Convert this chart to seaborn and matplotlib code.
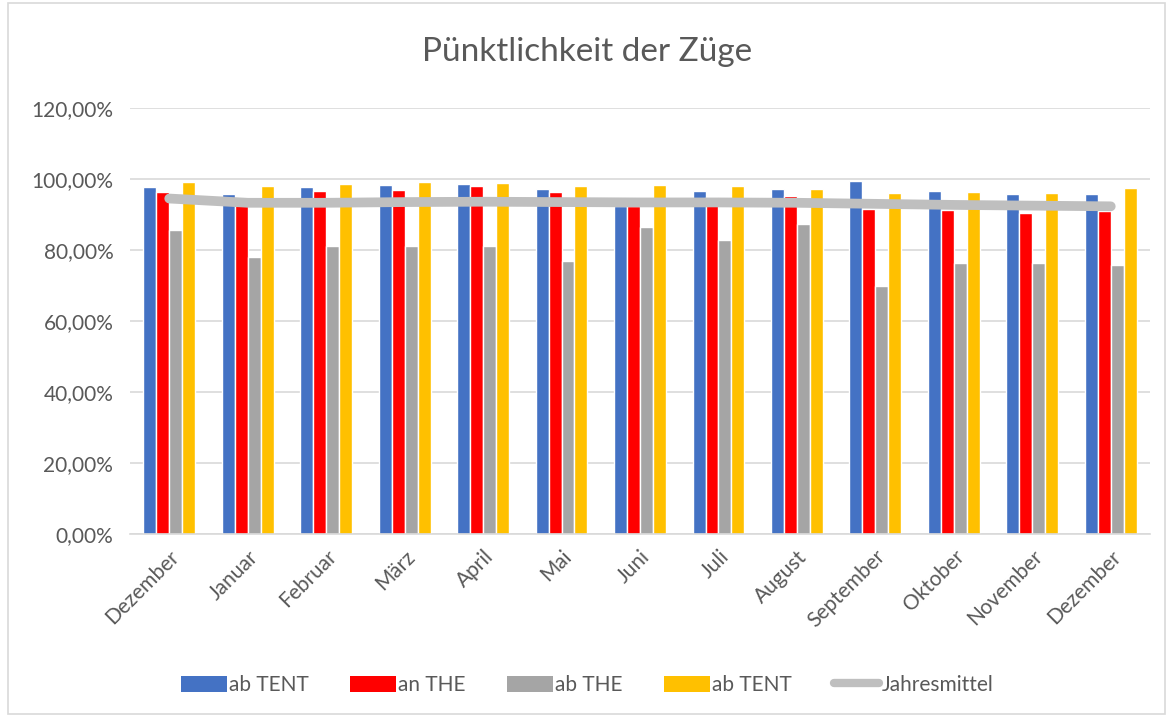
import matplotlib
matplotlib.use("Agg")
import matplotlib.pyplot as plt
import matplotlib.ticker as mticker
from matplotlib.patches import Rectangle, Patch
from matplotlib.lines import Line2D
import seaborn as sns
import pandas as pd
import numpy as np

months = ["Dezember", "Januar", "Februar", "März", "April", "Mai", "Juni",
          "Juli", "August", "September", "Oktober", "November", "Dezember"]
series_names = ["ab TENT", "an THE", "ab THE", "ab TENT "]
legend_labels = ["ab TENT", "an THE", "ab THE", "ab TENT"]
ab_tent = [97.8, 95.9, 97.7, 98.3, 98.5, 97.2, 92.3, 96.6, 97.2, 99.5, 96.5, 95.7, 95.9]
an_the = [96.2, 94.5, 96.6, 96.9, 98.0, 96.2, 92.3, 94.8, 95.2, 91.5, 91.4, 90.4, 91.0]
ab_the = [85.6, 78.0, 81.1, 81.1, 81.2, 77.0, 86.4, 82.7, 87.3, 70.0, 76.3, 76.3, 75.8]
ab_tent2 = [99.2, 97.9, 98.7, 99.2, 99.0, 98.0, 98.3, 98.0, 97.3, 96.0, 96.4, 96.0, 97.5]
jahresmittel = [94.5, 93.3, 93.3, 93.5, 93.6, 93.5, 93.4, 93.4, 93.3, 93.0, 92.7, 92.5, 92.3]
title = "Pünktlichkeit der Züge"
line_label = "Jahresmittel"

colors = ["#4472C4", "#FF0000", "#A5A5A5", "#FFC000"]
line_color = "#BFBFBF"

sns.set_style("white")
plt.rcParams["font.family"] = ["Lato", "DejaVu Sans"]

idx = list(range(len(months)))
rows = []
for name, vals in zip(series_names, [ab_tent, an_the, ab_the, ab_tent2]):
    for i, v in zip(idx, vals):
        rows.append({"idx": i, "serie": name, "wert": v / 100})
df = pd.DataFrame(rows)

fig = plt.figure(figsize=(11.74, 7.16), dpi=100)
ax = fig.add_axes([130 / 1174, 1 - 534 / 716, 1020 / 1174, 426 / 716])

sns.barplot(data=df, x="idx", y="wert", hue="serie", hue_order=series_names,
            palette=colors, width=0.66, ax=ax, legend=False, saturation=1)
sns.lineplot(x=idx, y=[v / 100 for v in jahresmittel], ax=ax, color=line_color,
             linewidth=7, legend=False, solid_capstyle="round")

ax.set_xlim(-0.5, len(months) - 0.5)
ax.set_ylim(0, 1.2)
ax.yaxis.set_major_locator(mticker.MultipleLocator(0.2))
ax.yaxis.set_major_formatter(mticker.FuncFormatter(lambda v, p: f"{v*100:.2f}%".replace(".", ",")))
ax.grid(axis="y", color="#D9D9D9", linewidth=1.2)
ax.set_axisbelow(True)
for s in ["left", "right", "top"]:
    ax.spines[s].set_visible(False)
ax.spines["bottom"].set_color("#D9D9D9")
ax.spines["bottom"].set_linewidth(1.2)
ax.set_xticks(idx)
ax.set_xticklabels(months, rotation=45, ha="right", rotation_mode="anchor", fontsize=15, color="#595959")
ax.tick_params(axis="x", which="major", length=0, pad=9)
ax.set_xticks(np.arange(-0.5, len(months), 1.0), minor=True)
ax.tick_params(axis="x", which="minor", length=6, color="#D9D9D9", width=1.2)
ax.tick_params(axis="y", length=0, labelsize=15, labelcolor="#595959", pad=12)
ax.set_xlabel("")
ax.set_ylabel("")

fig.text(0.5, 1 - 52 / 716, title, ha="center", va="center", fontsize=24, color="#595959")

handles = [Patch(facecolor=c, edgecolor="none") for c in colors]
handles.append(Line2D([0], [0], color=line_color, linewidth=6, solid_capstyle="round"))
leg = fig.legend(handles, legend_labels + [line_label], loc="center",
                 bbox_to_anchor=(0.5, 1 - 685 / 716), ncol=5, frameon=False,
                 fontsize=15, handlelength=2.2, handleheight=0.8, handletextpad=0.1,
                 columnspacing=2.0)
for t in leg.get_texts():
    t.set_color("#595959")

fig.patches.append(Rectangle((8 / 1174, 2 / 716), 1157 / 1174, 711 / 716,
                             transform=fig.transFigure, fill=False,
                             edgecolor="#D9D9D9", linewidth=1.2))

fig.savefig("out.png", dpi=100, facecolor="white")
